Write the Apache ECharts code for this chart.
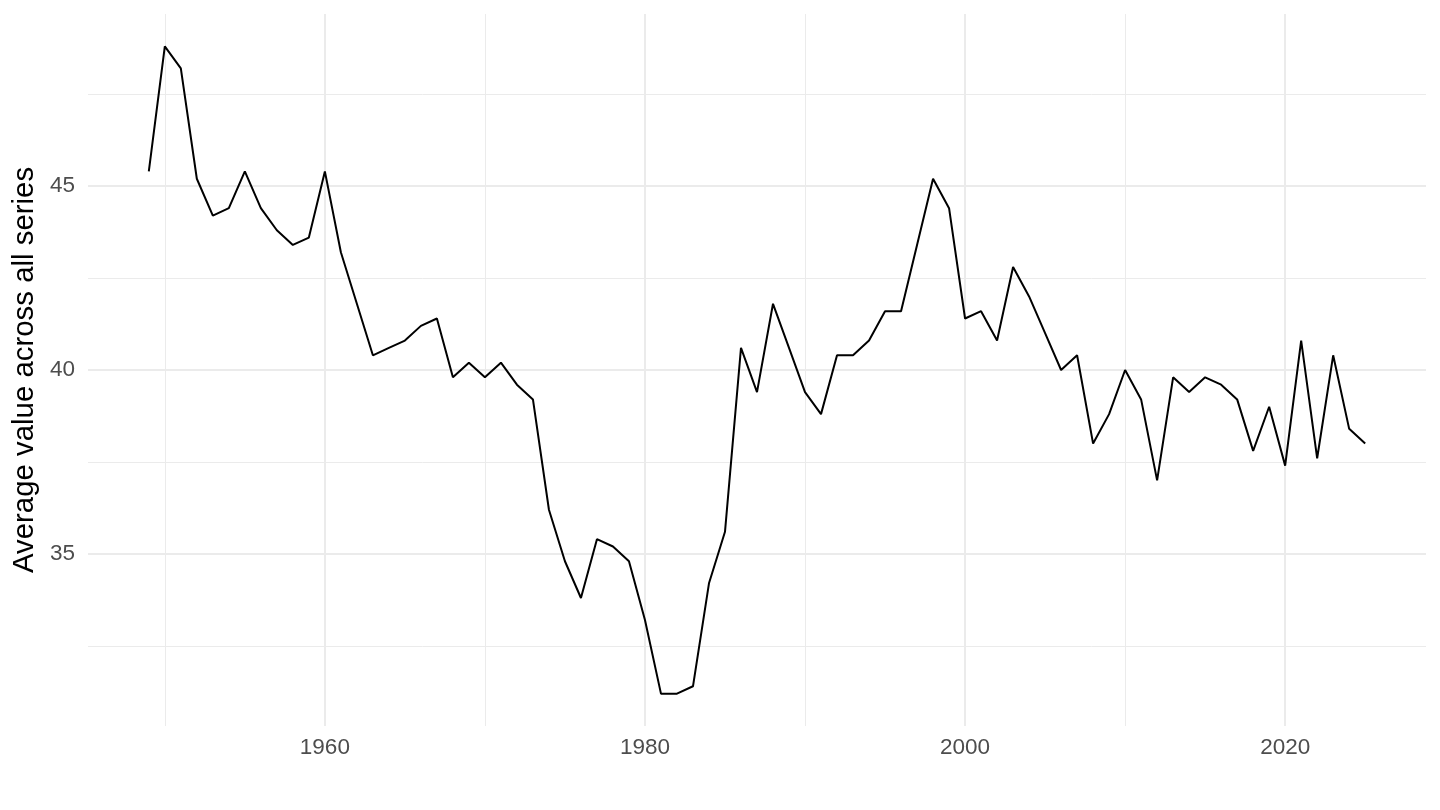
<!DOCTYPE html>
<html>
<head>
<meta charset="utf-8">
<script src="https://cdn.jsdelivr.net/npm/echarts@6/dist/echarts.min.js"></script>
<style>
  html, body { margin: 0; padding: 0; background: #fff; }
  #main { width: 1440px; height: 810px; }
</style>
</head>
<body>
<div id="main"></div>
<script type="text/javascript">
    // 年份与数值
    var years = [];
    for (var y = 1949; y <= 2025; y++) years.push(y);
    var values = [
        45.4, 48.8, 48.2, 45.2, 44.2, 44.4, 45.4, 44.4, 43.8, 43.4, 43.6,
        45.4, 43.2, 41.8, 40.4, 40.6, 40.8, 41.2, 41.4, 39.8, 40.2,
        39.8, 40.2, 39.6, 39.2, 36.2, 34.8, 33.8, 35.4, 35.2, 34.8,
        33.2, 31.2, 31.2, 31.4, 34.2, 35.6, 40.6, 39.4, 41.8, 40.6,
        39.4, 38.8, 40.4, 40.4, 40.8, 41.6, 41.6, 43.4, 45.2, 44.4,
        41.4, 41.6, 40.8, 42.8, 42.0, 41.0, 40.0, 40.4, 38.0, 38.8,
        40.0, 39.2, 37.0, 39.8, 39.4, 39.8, 39.6, 39.2, 37.8, 39.0,
        37.4, 40.8, 37.6, 40.4, 38.4, 38.0
    ];
    var xLabels = [1960, 1980, 2000, 2020];
    var xMinorGrid = [1950, 1970, 1990, 2010];
    var yLabels = [35, 40, 45];
    var yMinorGrid = [32.5, 37.5, 42.5, 47.5];

    var gridColor = '#EBEBEB';
    // ggplot 式的 5% 扩展
    var xMin = 1949 - 0.05 * (2025 - 1949), xMax = 2025 + 0.05 * (2025 - 1949);
    var yMin = 31.2 - 0.05 * (48.8 - 31.2), yMax = 48.8 + 0.05 * (48.8 - 31.2);

    var gridLines = [];
    xLabels.forEach(function (v) { gridLines.push({ xAxis: v, lineStyle: { width: 2 } }); });
    xMinorGrid.forEach(function (v) { gridLines.push({ xAxis: v, lineStyle: { width: 1 } }); });
    yLabels.forEach(function (v) { gridLines.push({ yAxis: v, lineStyle: { width: 2 } }); });
    yMinorGrid.forEach(function (v) { gridLines.push({ yAxis: v, lineStyle: { width: 1 } }); });

    var myChart = echarts.init(document.getElementById('main'));
    var option = {
        animation: false,
        backgroundColor: '#ffffff',
        textStyle: { fontFamily: '"Liberation Sans", Arial, sans-serif' },
        grid: { left: 88, right: 14, top: 14, bottom: 84 },
        xAxis: {
            type: 'value',
            min: xMin,
            max: xMax,
            axisLine: { show: false },
            axisTick: { show: false },
            splitLine: { show: false },
            axisLabel: {
                customValues: xLabels,
                formatter: function (v) { return String(v); },
                fontSize: 22.5,
                color: '#4D4D4D',
                margin: 10
            }
        },
        yAxis: {
            type: 'value',
            min: yMin,
            max: yMax,
            name: 'Average value across all series',
            nameLocation: 'middle',
            nameGap: 47,
            nameTextStyle: { fontSize: 29.4, color: '#000000' },
            axisLine: { show: false },
            axisTick: { show: false },
            splitLine: { show: false },
            axisLabel: {
                customValues: yLabels,
                formatter: function (v) { return String(v); },
                fontSize: 22.5,
                color: '#4D4D4D',
                margin: 13
            }
        },
        series: [
            {
                // 网格线
                type: 'line',
                data: [],
                silent: true,
                markLine: {
                    silent: true,
                    symbol: ['none', 'none'],
                    label: { show: false },
                    lineStyle: { type: 'solid', color: gridColor },
                    emphasis: { disabled: true },
                    data: gridLines
                }
            },
            {
                type: 'line',
                z: 10,
                data: years.map(function (yr, i) { return [yr, values[i]]; }),
                showSymbol: false,
                lineStyle: { color: '#000000', width: 2 },
                itemStyle: { color: '#000000' }
            }
        ]
    };
    myChart.setOption(option);
</script>
</body>
</html>
